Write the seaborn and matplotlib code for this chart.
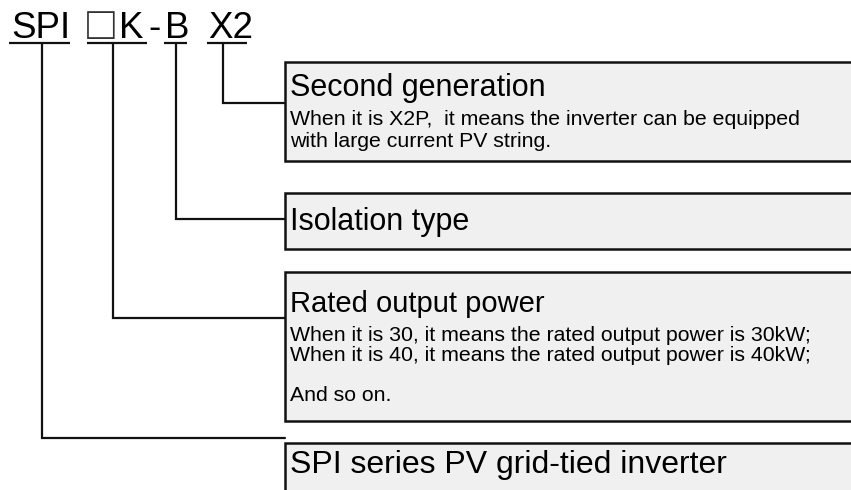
import matplotlib
matplotlib.use('Agg')
import matplotlib.pyplot as plt
from matplotlib.patches import Rectangle
import seaborn as sns

# ── data ──────────────────────────────────────────────────────────────────────
# model code pieces, left to right (the joining dash is not underlined)
code_parts = ['SPI', '□K', 'B', 'X2']
code_dash = '-'

# explanation boxes, top to bottom
box_titles = ['Second generation',
              'Isolation type',
              'Rated output power',
              'SPI series PV grid-tied inverter']
box_details = [
    ['When it is X2P,  it means the inverter can be equipped',
     'with large current PV string.'],
    [],
    ['When it is 30, it means the rated output power is 30kW;',
     'When it is 40, it means the rated output power is 40kW;',
     'And so on.'],
    [],
]
box_part = [3, 2, 1, 0]   # code part that each box explains

# ── layout (pixels, origin top-left) ─────────────────────────────────────────
W, H = 851, 490
part_x = [11, 89, 165, 208]
dash_x = 148
code_base = 38
code_size = 26.5
underline_y = 43
underlines = [(9, 70), (87, 147), (164, 187), (207, 247)]
stem_x = [42, 113, 176, 223]

box_left = 285
box_top = [62, 193, 272, 443]
box_bottom = [161, 249, 421, 520]
link_y = [103, 219, 318, 438]
title_base = [96, 230, 312, 473]
title_size = [22, 22, 21, 23]
detail_base = [[125, 147], [], [341, 361, 401], []]
detail_size = 15.3

LINE = '#111111'
FILL = '#f0f0f0'
FONT = ['Liberation Sans', 'DejaVu Sans']

sns.set_theme(style='white')
plt.rcParams['font.family'] = FONT

fig = plt.figure(figsize=(W / 100, H / 100), dpi=100)
ax = fig.add_axes([0, 0, 1, 1])
ax.set_xlim(0, W)
ax.set_ylim(H, 0)
ax.axis('off')

# model code with underlines; the white square gets a size of its own
for txt, x in zip(code_parts, part_x):
    if txt.startswith('□'):
        ax.text(x - 2, code_base + 1, '□', fontsize=code_size * 1.25,
                va='baseline', ha='left', color='#333333')
        ax.text(x + 30, code_base, txt[1:], fontsize=code_size,
                va='baseline', ha='left', color='black')
    else:
        ax.text(x, code_base, txt, fontsize=code_size, va='baseline',
                ha='left', color='black')
ax.text(dash_x, code_base, code_dash, fontsize=code_size, va='baseline',
        ha='left', color='black')
for x0, x1 in underlines:
    ax.plot([x0, x1], [underline_y, underline_y], color=LINE, lw=1.6,
            solid_capstyle='butt')

# boxes
for i, title in enumerate(box_titles):
    rect = Rectangle((box_left, box_top[i]), W + 20 - box_left,
                     box_bottom[i] - box_top[i], facecolor=FILL,
                     edgecolor=LINE, lw=1.8, zorder=2)
    ax.add_patch(rect)
    ax.text(box_left + 5, title_base[i], title, fontsize=title_size[i],
            va='baseline', ha='left', color='black', zorder=3)
    for line, yb in zip(box_details[i], detail_base[i]):
        ax.text(box_left + 5, yb, line, fontsize=detail_size, va='baseline',
                ha='left', color='black', zorder=3)

# connectors: stem down from the underline, then across to the box
for i, p in enumerate(box_part):
    ax.plot([stem_x[p], stem_x[p], box_left], [underline_y, link_y[i], link_y[i]],
            color=LINE, lw=1.6, solid_joinstyle='miter', zorder=1)

fig.savefig('out.png', dpi=100)
